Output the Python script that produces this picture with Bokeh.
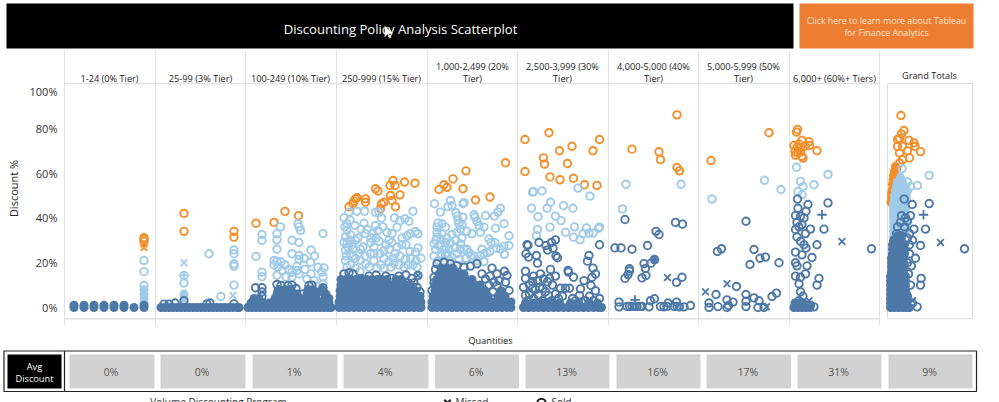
from bokeh.plotting import figure
from bokeh.models import Range1d, Label, FixedTicker
from bokeh.embed import file_html
from bokeh.resources import INLINE

ORANGE = "#F28E2B"; LIGHT = "#A0CBE8"; DARK = "#4E79A7"; GRID = "#E2E2E2"

tier_labels = ["1-24 (0% Tier)", "25-99 (3% Tier)", "100-249 (10% Tier)", "250-999 (15% Tier)",
               "1,000-2,499 (20%\nTier)", "2,500-3,999 (30%\nTier)", "4,000-5,000 (40%\nTier)",
               "5,000-5,999 (50%\nTier)", "6,000+ (60%+ Tiers)", "Grand Totals"]
avg_discount = ["0%", "0%", "1%", "4%", "6%", "13%", "16%", "17%", "31%", "9%"]
y_ticks = [0, 20, 40, 60, 80]

# (position inside the tier, discount %)
t1_orange = [(80, 31.2), (80, 30.6), (80, 29.5)]
t1_light = [(80, 21), (80, 16), (80, 9.8)]
t1_light_fill = {2: [80], 4: [80], 6: [80], 8: [80]}
t1_dark_fill = {0: [10, 20, 30, 40, 50, 60, 70, 80], 1: [10, 20, 30, 40, 50, 60, 80]}
t2_orange = [(29, 42), (29, 34), (79, 34), (79, 31.4)]
t2_light = [(29, 14.3), (29, 10.9), (54, 24), (79, 25.7), (79, 24), (79, 19.5), (79, 18.5), (79, 10), (66, 4.9)]
t2_light_fill = {4: [29], 6: [29]}
t2_dark = [(20, 2), (29, 3), (55, 2), (52, 1.6), (79, 1.6), (9, 1.5), (14, 1.5)]
t2_dark_fill = {0: [6, 10, 14, 18, 22, 26, 30, 34, 38, 42, 46, 50, 54, 58, 62, 66, 70, 74, 78, 82, 84]}
t3_orange = [(11, 37.6), (29, 38), (40, 42.9), (53.5, 41)]
t3_light = [(17, 32.6), (17, 30), (32, 32.9), (32, 30.2), (35.5, 36), (53, 37.4), (54, 36), (55.5, 34.4), (78, 33),
            (47, 30), (54, 29), (32, 26), (11, 22.8), (66, 25.7), (69.5, 23), (47, 24), (54, 23.2), (54, 21.5),
            (52, 18.5), (65.5, 20.2), (29, 21), (32, 20.7), (29, 19), (36, 20.4), (33, 18), (37, 16.5), (17, 15.8),
            (17, 13.8), (32, 14.4), (47, 15.8), (47, 13.6), (52, 16.5), (66, 15), (62, 12.8), (79, 17.7), (77, 15.8),
            (78, 13.6), (69, 12), (78, 10.5), (41, 13.6), (54, 15), (40, 19), (44, 17), (60, 17), (73, 18), (59, 22)]
t3_dark = [(10.5, 8.8), (17, 8.8), (17, 6.9), (17, 5), (12, 3.5), (32, 10.3), (36, 9.8), (43, 9.8), (47, 10), (51, 8.5),
           (64, 9.8), (67, 10), (78, 8.8), (78, 7), (78, 5), (33, 7.5), (40, 7.5), (46, 7), (58, 6), (66, 7), (70, 7), (75, 4.5)]
t3_dark_fill = {0: [3, 7, 11, 15, 19, 23, 27, 31, 35, 39, 43, 47, 51, 55, 59, 63, 67, 71, 75, 79, 83, 86],
                2: [6, 12, 18, 24, 30, 34, 38, 42, 46, 50, 54, 58, 62, 66, 70, 74, 78, 82, 84],
                4: [9, 14, 30, 35, 40, 45, 50, 55, 60, 65, 70, 80, 84],
                6: [32, 37, 42, 47, 52, 62, 66, 71, 81],
                8: [34, 40, 46, 63, 68, 77]}
t4_orange = [(13, 45), (17, 46.3), (19.5, 48.5), (21, 49), (18, 47.5), (29.5, 48.5), (29.5, 47), (39.5, 53), (42, 52),
             (54, 54.5), (57, 56.7), (59, 54.5), (54.5, 50), (64, 50.3), (68.5, 56), (79, 55.5), (56, 47.8), (48, 47),
             (45.5, 46.3), (44.5, 44), (59.5, 45)]
t4_light = [(13, 42.5), (21, 43), (28.5, 43), (39.5, 42.5), (43, 42.5), (45.5, 40), (58.5, 40), (77, 43), (69, 39.6),
            (64, 38.8), (73, 38.5), (11, 37.4), (19, 36.6), (28, 37.6), (39.5, 36.6), (31, 34.7), (42, 34.4), (51, 33.6),
            (61, 35.9), (79.5, 33.9), (82, 32.9), (71, 32), (74.5, 33), (11, 34.5), (9.5, 31.5), (14.5, 32.5), (19.5, 30),
            (29.5, 33), (34.5, 29), (43, 29.6), (24.5, 26), (34.5, 24), (48, 25.4), (53, 26), (59, 24), (82, 26.6),
            (79.5, 24.7), (74.5, 22), (69.5, 21.7), (61, 27), (11, 28.5), (9.5, 25.5), (14.5, 24), (19.5, 22), (24.5, 21),
            (9.5, 21), (14.5, 19), (29.5, 19.5), (38, 21), (48, 22), (53, 20.5), (58, 19.7), (63, 19), (77, 19), (81, 18),
            (19.5, 17.5), (33, 18), (41, 17.5), (48, 17.5), (55, 18), (11, 18), (24, 16), (8, 15), (12, 27), (17, 26), (66, 28),
            (8, 40), (14, 39), (9, 36), (14, 30), (8, 29), (16, 28), (10, 23), (17, 23), (23, 24), (27, 27), (22, 31), (25, 35),
            (35, 31), (38, 27), (44, 24), (50, 28), (56, 29), (56, 33), (47, 36), (66, 31), (70, 28), (74, 25), (64, 23), (57, 22),
            (40, 31), (29, 23), (37, 33), (45, 19), (68, 18), (72, 19), (80, 21), (85, 22), (38, 24), (53, 30)]
t4_dark = [(8, 15), (13, 15.5), (17, 15), (25, 13), (33, 14), (40, 14.5), (50, 14), (56, 13), (63, 14), (70, 14.5),
           (76, 13), (82, 14.3), (72, 11), (78, 11), (81, 9), (84, 7)]
t4_dark_fill = {0: [3, 8, 13, 18, 23, 28, 33, 38, 43, 48, 53, 58, 63, 68, 73, 78, 83, 85],
                2.5: [3, 8, 13, 18, 23, 28, 33, 38, 43, 48, 53, 58, 63, 68, 73, 78, 83, 85],
                5: [4, 9, 14, 19, 24, 29, 34, 39, 44, 49, 54, 59, 64, 69, 74, 79, 84],
                7.5: [4, 9, 14, 19, 24, 29, 34, 39, 44, 49, 54, 59, 64, 69, 74, 79],
                10: [5, 10, 15, 20, 25, 30, 35, 40, 45, 50, 55, 60, 65, 70, 75],
                12.5: [5, 10, 15, 20, 26, 31, 36, 41, 46, 51, 60, 65]}
t5_orange = [(12, 52.7), (17, 54.8), (20, 53.7), (26, 57.4), (39, 61), (36, 53), (48.5, 48), (63, 49.3), (78.5, 64.6)]
t5_light = [(7.5, 46.3), (23.5, 47.8), (21, 45), (25, 45.5), (36, 46.3), (37, 46.8), (73.5, 44.3), (71, 42.6), (13.5, 42.6),
            (29, 42.3), (30, 40.8), (36, 40.3), (47, 41.4), (48, 40.3), (58.5, 41), (67.5, 40.8), (50, 38.4), (77, 37.4),
            (57, 35.9), (68.5, 35.4), (52, 36.5), (53.5, 33.6), (45, 32.9), (40, 34), (82, 32), (11, 37.8), (15, 37.4),
            (10, 35.9), (18.5, 35.9), (32, 37.4), (33.5, 35), (30, 33.6), (25, 32.6), (10, 31.4), (15, 32.9), (62, 30.6),
            (64, 29), (68, 28.9), (82, 27.7), (77, 27.4), (69.5, 26.5), (73.5, 26), (77.5, 23.7), (60, 24.4), (57, 24),
            (57, 20.5), (7, 28.4), (12, 27.5), (18.5, 29), (23.5, 28.8), (17, 26), (22, 26), (8.5, 26), (33.5, 28.4),
            (37, 26), (42, 24.5), (47, 23), (30, 24), (39, 22), (50, 21), (32, 21.5), (7, 23), (18.5, 23.5), (25, 22.5), (14, 24),
            (10, 33.5), (14, 30.5), (20, 31), (13, 28), (19, 27), (9, 30), (15, 23), (20, 24), (11, 21), (17, 21), (23, 21),
            (29, 30), (35, 31), (33, 26), (28, 27), (44, 23), (40, 26), (53, 23), (55, 26), (63, 25), (31, 39), (35, 37)]
t5_dark = [(10, 19.5), (17, 20.2), (23.5, 19.5), (30, 18.7), (37, 18), (43.5, 18.5), (50, 19.5), (65, 17.6), (77.5, 16.2),
           (80, 14.3), (70, 15), (7, 13.5), (8.5, 17), (5, 7.6), (7, 11), (82, 7.6), (78.5, 11.3), (67, 11.3), (58.5, 12.8),
           (70, 9.8), (75, 6), (62, 10), (63, 14), (72, 12), (55, 15), (66, 7)]
t5_dark_fill = {0: [5, 10, 15, 20, 25, 30, 35, 40, 45, 50, 55, 60, 65, 70, 75, 80, 84],
                2.5: [5, 10, 15, 20, 25, 30, 35, 40, 45, 50, 55, 60, 65, 70, 75, 80, 84],
                5: [6, 11, 16, 21, 26, 31, 36, 41, 46, 51, 56, 61, 71, 78],
                7.5: [8, 13, 18, 23, 28, 33, 38, 43, 48, 53, 58, 74],
                10: [8, 13, 18, 23, 28, 33, 38, 43, 48, 53],
                12.5: [10, 15, 20, 25, 30, 35, 40, 45],
                15: [12, 17, 22, 27, 32, 37],
                17.5: [14, 20, 26]}
t6_orange = [(7.5, 75), (31.5, 78), (42, 70), (54.5, 72), (82, 75), (75.5, 70), (26, 66.8), (27, 64), (50, 64.3), (7.5, 60.7),
             (32.5, 58.3), (42.5, 57), (56, 57.7), (67, 54.8), (79.5, 54.5)]
t6_light = [(16, 51.8), (15, 51.5), (24.5, 52), (60.5, 53.3), (72.5, 49.7), (33, 47), (29.5, 44.3), (14, 44.3), (46, 45.5),
            (55.5, 44.3), (20.5, 40.5), (38, 40.8), (43.5, 38.8), (32.5, 35.9), (57, 36), (20, 34.8), (69, 35.5), (82, 35.9),
            (81, 35.4), (48, 33.6), (19, 32), (56, 31.4), (65.5, 32.9), (71.5, 33.2), (75.5, 33.2), (62.5, 30.2)]
t6_dark = [(9.5, 28), (10.5, 27.8), (21.5, 29), (28.5, 27.7), (34, 29), (38, 30.2), (30, 25.7), (35.5, 26.5), (82, 28),
           (8.5, 24), (11, 22.5), (19, 23.2), (38.5, 23), (40, 22.2), (20, 19.8), (71.5, 23.2), (70, 20.7), (75.5, 17.6),
           (78, 15), (8, 16.2), (33, 17), (50.5, 16.5), (51, 15.8), (56, 13.5), (66.5, 12), (74.5, 13.5), (16, 14), (23, 15),
           (26, 12.8), (8, 13), (15, 11.5), (30, 11.5), (35, 10), (6, 9), (15, 8.5), (25, 8.5), (43, 8.6), (48, 8.6), (52, 8.6),
           (63, 8.3), (62, 5.4), (78, 7.5), (73.5, 9.8), (82, 4), (8, 5.4), (21, 5.4), (31, 5.4), (41, 4), (55, 4), (68, 3),
           (12, 10), (20, 12), (22, 9), (28, 7), (12, 6), (16, 4), (25, 3), (34, 3), (38, 6), (45, 5), (58, 3), (64, 2.5), (72, 5),
           (76, 3), (10, 3), (18, 8), (32, 13), (38, 14)]
t6_dark_fill = {0: [6, 11, 16, 21, 26, 31, 36, 41, 46, 51, 56, 61, 66, 71, 76, 81, 84],
                2: [8, 16, 24, 28, 35, 42, 53, 60, 72, 80]}
t7_orange = [(69, 86), (24, 70.7), (51, 69.5), (52.5, 66), (69, 62.5), (71.5, 61)]
t7_light = [(18, 55), (73, 55), (14.5, 44)]
t7_dark = [(17, 39.3), (67.5, 38), (74.5, 37.2), (48, 34), (51, 32.6), (39.5, 27.7), (7, 26.6), (13, 26.6), (24, 26), (46.5, 21.4),
           (43, 19.8), (36, 19.6), (37.5, 17.4), (21.5, 17.3), (21.5, 16.3), (20, 14.7), (17, 13), (34, 13.2), (38, 14.3), (74, 13.5),
           (68.5, 11.2), (11, 2.4), (11, 0.3), (19, 0.5), (21.5, 0.5), (24, 0.5), (27, 0.5), (29, 0.5), (32, 0.5), (34, 0.5),
           (41, 0.3), (42.5, 3), (46.5, 3.9), (52.5, 0.5), (56, 0.3), (60, 2), (59, 0.5), (66, 0.5), (68.5, 2.4), (69, 0.5), (71.5, 0.3),
           (76, 0.3), (82.5, 0.9)]
t8_orange = [(70.5, 78), (12.5, 65.6)]
t8_light = [(66, 56.8), (82.5, 52.7), (13.5, 48.4)]
t8_dark = [(47.5, 38.5), (23, 26.2), (19, 25), (55.5, 25.9), (67, 22.5), (61.5, 22), (51.5, 19.2), (80.5, 20), (38, 9.4), (17.5, 5.8),
           (78, 6.4), (73.5, 4.9), (47.5, 5.8), (55.5, 4.3), (60.5, 3), (28.5, 3.4), (34.5, 2.4), (10.5, 2), (47.5, 2.8), (10.5, 0),
           (19.5, 0.4), (28.5, 0), (30, 0.9), (47.5, 0.4), (59.5, 0), (65.5, 0)]
t9_orange = [(8.5, 79.5), (7.5, 78.3), (13, 74.6), (20, 74), (20.5, 72.3), (28, 70), (5, 72.3), (10, 73), (8, 71.5), (11.5, 71.5),
             (6, 69.5), (9, 69), (11.5, 69.5), (6.5, 68), (13, 67.5), (14, 66.7), (16, 72)]
t9_light = [(7.5, 62.6), (39, 59.4), (25, 54.8), (11.5, 56.3), (14, 54), (9, 51.8), (13, 50.4)]
t9_dark = [(8.5, 48.4), (19, 46), (39, 46.7), (9, 44.3), (17, 43), (6.5, 41), (11.5, 40.7), (15, 40), (8, 38), (13, 37), (6.5, 34.8),
           (21.5, 35), (35, 35), (16.5, 33), (10, 36), (8, 31.5), (11.5, 29.5), (15, 28), (17, 26.5), (28, 28), (6.5, 24.7), (13, 23.5),
           (23, 22.3), (6.5, 20), (8, 18.6), (18, 18.6), (6.5, 14), (11.5, 13.5), (16.5, 15), (10, 10.6), (11.5, 7), (30, 13), (28, 10),
           (82.5, 26.2), (10, 3), (6.5, 1), (21.5, 1), (25, 0.3), (18, 1), (14, 5)]
t9_dark_fill = {0: [5, 9, 13, 17, 21], 2: [6, 10, 14]}
g_orange = [(13.5, 85.7), (16.5, 79), (14, 77.5), (10, 75), (12, 75.5), (21.5, 74.6), (26.5, 73.5), (27.5, 71.9), (33, 69.6), (10, 72),
            (15, 72), (20, 70), (12, 69), (22, 66.8), (12, 64.5), (15, 66), (9, 62)]
g_orange_fill = {47: [3.5], 49: [4], 51: [4], 53: [5], 55: [5], 57: [5.5], 59: [6], 61: [7], 63: [8]}
g_light = [(41.7, 59), (30, 54.5), (14.7, 62), (20, 56), (23, 54)]
g_light_fill = {32: [6, 10, 14], 34: [6, 10, 14, 18], 36: [6, 10, 14, 18], 38: [6, 10, 14, 18], 40: [6, 10, 14, 18], 42: [6, 10, 14, 18], 44: [6, 10, 14, 18],
                46: [6, 10, 14, 18], 48: [7, 11, 15, 19], 50: [7, 11, 15, 19], 52: [8, 12, 16, 20], 54: [9, 13, 17], 56: [10, 15], 58: [13]}
g_dark = [(41.7, 46.4), (24.7, 46), (16.7, 48.4), (38, 35), (26.5, 35), (77, 26.2), (33, 27.7), (28, 22), (24, 18.6), (33.7, 13), (33, 10),
          (18, 40), (20, 38.5), (14, 41), (23, 41), (17, 36), (10, 36), (25, 30), (22, 28), (22, 24), (21, 15), (20, 20), (23, 10), (20, 5),
          (29.7, 0.3), (25, 2), (22, 33), (13, 38), (9, 33), (20, 31)]
g_dark_fill = {0: [3, 7, 11, 15, 19, 22], 2: [3, 7, 11, 15, 19], 4: [3, 7, 11, 15, 19], 6: [3, 7, 11, 15, 19], 8: [3, 7, 11, 15, 18], 10: [3, 7, 11, 15, 18],
               12: [3, 7, 11, 15, 18], 14: [3, 7, 11, 15, 18], 16: [4, 8, 12, 16], 18: [4, 8, 12, 16], 20: [4, 8, 12, 16], 22: [4, 8, 12, 16],
               24: [5, 9, 13, 17], 26: [5, 9, 13, 17], 28: [5, 9, 13, 17], 30: [6, 10, 14], 32: [10, 14]}
light_crosses = [(1, 29, 20), (1, 78, 5.4)]
light_plus = [(1, 29, 14.3)]
orange_crosses = [(0, 80, 28.4), (0, 80, 26.8)]
dark_crosses = [(3, 82, 14.3), (6, 46.5, 21.4), (6, 59.5, 13.4), (7, 7, 7), (7, 28.5, 10.6), (7, 68, 0.3), (8, 53, 29.5), (8, 20, 3), (9, 53, 29), (9, 25, 3)]
dark_plus = [(6, 27, 3.4), (6, 46.5, 21.4), (8, 33, 41.4), (9, 36, 41.4)]

orange_rings = [t1_orange, t2_orange, t3_orange, t4_orange, t5_orange, t6_orange, t7_orange, t8_orange, t9_orange, g_orange]
light_rings = [t1_light, t2_light, t3_light, t4_light, t5_light, t6_light, t7_light, t8_light, t9_light, g_light]
dark_rings = [[], t2_dark, t3_dark, t4_dark, t5_dark, t6_dark, t7_dark, t8_dark, t9_dark, g_dark]
orange_fills = {9: g_orange_fill}
light_fills = {0: t1_light_fill, 1: t2_light_fill, 9: g_light_fill}
dark_fills = {0: t1_dark_fill, 1: t2_dark_fill, 2: t3_dark_fill, 3: t4_dark_fill, 4: t5_dark_fill, 5: t6_dark_fill, 8: t9_dark_fill, 9: g_dark_fill}

# layout: x scales run in page pixels, the middle y scale in discount %
panel_left = [63.5, 154.5, 244.5, 335.5, 426.5, 517, 607.5, 698, 788.5, 887]
panel_edges = [63.5, 154.5, 245, 336, 427, 517, 607.5, 698, 788.5, 879]
PX_PER_PCT = 2.24
ZERO_PY = 307
def Y(py):
    return (ZERO_PY - py) / PX_PER_PCT

def place(fig, top_px):
    fig.styles = {"position": "absolute", "left": "0px", "top": f"{top_px}px"}

def text(fig, s, x, y, size, color="#333333", align="center", font="Open Sans", style="normal"):
    fig.add_layout(Label(x=x, y=y, text=s, text_font=font, text_font_size=f"{size}px", text_color=color,
                         text_align=align, text_baseline="middle", text_font_style=style))

def strip(top_py, bottom_py):
    f = figure(width=999, height=bottom_py - top_py, output_backend="svg", toolbar_location=None,
               x_range=Range1d(0, 999), y_range=Range1d(bottom_py, top_py), min_border=0,
               x_axis_type=None, y_axis_type=None, outline_line_color=None)
    f.grid.visible = False
    place(f, top_py)
    return f

# banner strip
top = strip(0, 50)
top.quad(left=[6], right=[793], top=[3], bottom=[48], fill_color="black", line_color=None)
top.quad(left=[799], right=[973], top=[3], bottom=[48], fill_color="#ED7D31", line_color=None)
text(top, "Discounting Policy Analysis Scatterplot", 400, 28, 13.1, color="white")
for s, py in zip("Click here to learn more about Tableau\nfor Finance Analytics".split("\n"), [20, 32]):
    text(top, s, 886, py, 8.8, color="#FBE3D2")
top.patch(x=[384, 384, 387, 389, 391, 389, 393], y=[25, 37, 34, 38, 37, 33.5, 33],
          fill_color="white", line_color="#222222", line_width=0.5)

# scatter strip
p = figure(width=999, height=276, output_backend="svg", toolbar_location=None,
           x_range=Range1d(63, 985), y_range=Range1d(Y(326), Y(50)),
           min_border_left=63, min_border_right=14, min_border_top=0, min_border_bottom=0,
           outline_line_color=None)
place(p, 50)
p.xaxis.visible = False
p.ygrid.visible = False
p.xgrid.ticker = FixedTicker(ticks=panel_edges)
p.xgrid.grid_line_color = GRID
p.xgrid.grid_line_width = 1
ax = p.yaxis[0]
shifted_top_tick = Y(91)  # the reference draws its 100% label just under the top rule
ax.ticker = FixedTicker(ticks=y_ticks + [shifted_top_tick])
ax.major_label_overrides = {0: "0%", 20: "20%", 40: "40%", 60: "60%", 80: "80%", shifted_top_tick: "100%"}
ax.major_label_text_font = "Open Sans"
ax.major_label_text_font_size = "11px"
ax.major_label_text_color = "#333333"
ax.axis_line_color = None
ax.major_tick_line_color = None
ax.major_tick_in = 0
ax.major_tick_out = 2
ax.major_label_standoff = 4
ax.minor_tick_line_color = None
ax.axis_label = "Discount %"
ax.axis_label_text_font = "Open Sans"
ax.axis_label_text_font_style = "normal"
ax.axis_label_text_font_size = "11px"
ax.axis_label_text_color = "#222222"
ax.axis_label_standoff = 6

p.segment(x0=[63], x1=[879], y0=[100], y1=[100], line_color=GRID, line_width=1.5)
p.segment(x0=[63], x1=[879], y0=[-5], y1=[-5], line_color=GRID, line_width=1.5)
p.quad(left=[panel_left[9]], right=[972], top=[100], bottom=[-5], fill_color="white", line_color="#DCDCDC", line_width=1)

def pts(groups):
    xs, ys = [], []
    for i, g in enumerate(groups):
        for a, b in g:
            xs.append(panel_left[i] + a)
            ys.append(b)
    return xs, ys

def fill_pts(groups):
    xs, ys = [], []
    for i, rows in groups.items():
        for b, row in rows.items():
            for a in row:
                xs.append(panel_left[i] + a)
                ys.append(b)
    return xs, ys

def mark_pts(items):
    return [panel_left[i] + a for i, a, b in items], [b for i, a, b in items]

RING = dict(marker="circle", size=7.5, fill_color=None, line_width=1.9)
for rings, fills, col in [(orange_rings, orange_fills, ORANGE), (light_rings, light_fills, LIGHT), (dark_rings, dark_fills, DARK)]:
    x, y = fill_pts(fills)
    p.scatter(x, y, marker="circle", size=9, fill_color=col, line_color=None)
    x, y = pts(rings)
    p.scatter(x, y, line_color=col, **RING)
for items, mark, col in [(orange_crosses, "x", ORANGE), (light_crosses, "x", LIGHT), (light_plus, "cross", LIGHT),
                         (dark_crosses, "x", DARK), (dark_plus, "cross", DARK)]:
    x, y = mark_pts(items)
    p.scatter(x, y, marker=mark, size=9.5, line_color=col, line_width=1.8)

header_py = [78, 78, 78, 78, 72, 72, 72, 72, 78, 75]
header_x = [109, 200, 290, 381, 472, 562, 653, 743, 834, 929]
for s, x, py in zip(tier_labels, header_x, header_py):
    lines = s.split("\n")
    if len(lines) == 2:
        text(p, lines[0], x, Y(66), 9.2, color="#222222")
        text(p, lines[1], x, Y(78), 9.2, color="#222222")
    else:
        text(p, s, x, Y(py), 9.2, color="#222222")

# average discount strip
bot = strip(326, 402)
text(bot, "Quantities", 490, 340, 9.2, color="#222222")
bot.quad(left=[3.5], right=[976], top=[350.5], bottom=[391], fill_color=None, line_color="#222222", line_width=1.2)
bot.segment(x0=[64], x1=[64], y0=[350.5], y1=[391], line_color="#222222", line_width=1.2)
bot.quad(left=[7], right=[61], top=[354], bottom=[388], fill_color="black", line_color=None)
text(bot, "Avg", 34, 366, 9.2, color="white")
text(bot, "Discount", 34, 378, 9.2, color="white")
gray_l = [69, 160, 252, 343, 434.5, 525, 616, 706, 797, 888]
gray_r = [154, 245, 337, 428, 518.5, 609, 700, 790.5, 881, 972]
bot.quad(left=gray_l, right=gray_r, top=[354] * 10, bottom=[388] * 10, fill_color="#D2D2D2", line_color=None)
for l, r, s in zip(gray_l, gray_r, avg_discount):
    text(bot, s, (l + r) / 2 - 1, 371, 10.5, color="#555555")

text(bot, "Volume Discounting Program", 218, 401.5, 10, color="#333333")
bot.scatter([447], [402.5], marker="x", size=9, line_color="#222222", line_width=2.2)
text(bot, "Missed", 455, 401.5, 10, color="#333333", align="left")
bot.scatter([541], [402.5], marker="circle", size=8.5, fill_color=None, line_color="#222222", line_width=2)
text(bot, "Sold", 551, 401.5, 10, color="#333333", align="left")

open("out.html", "w").write(file_html([top, p, bot], INLINE))
